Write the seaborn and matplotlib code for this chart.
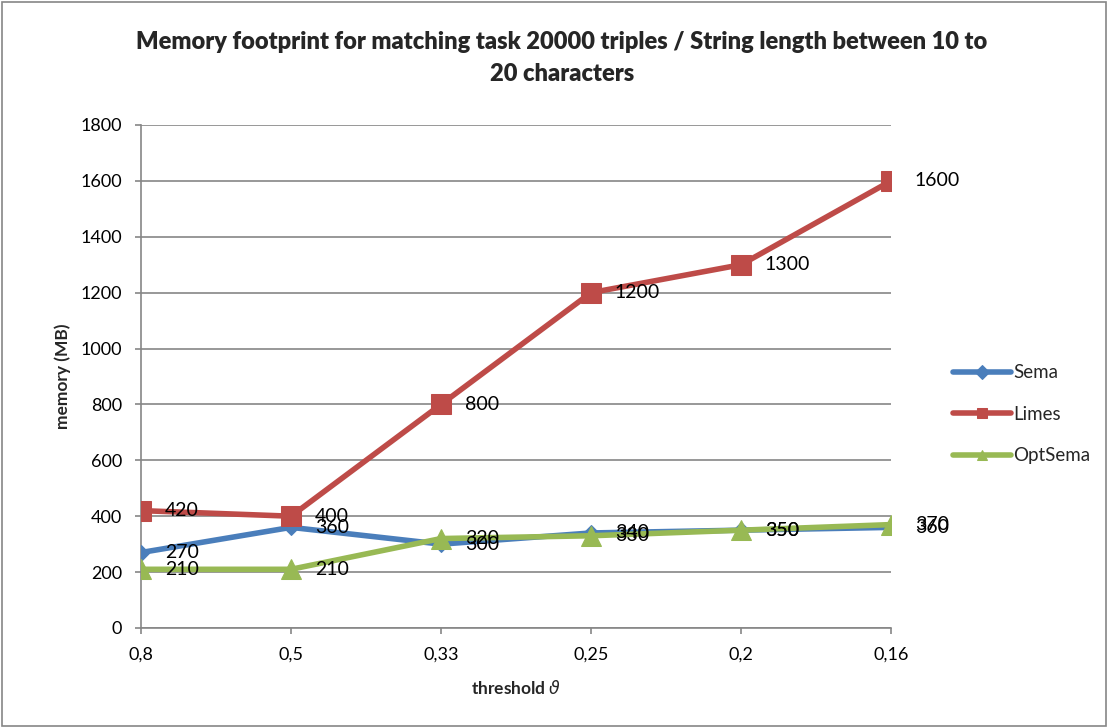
import matplotlib
matplotlib.use("Agg")
import matplotlib.pyplot as plt
import seaborn as sns
import pandas as pd

thresholds = ["0,8", "0,5", "0,33", "0,25", "0,2", "0,16"]
sema = [270, 360, 300, 340, 350, 360]
limes = [420, 400, 800, 1200, 1300, 1600]
optsema = [210, 210, 320, 330, 350, 370]
series_names = ["Sema", "Limes", "OptSema"]
y_ticks = [0, 200, 400, 600, 800, 1000, 1200, 1400, 1600, 1800]

rows = []
for name, vals in zip(series_names, [sema, limes, optsema]):
    for i, (t, v) in enumerate(zip(thresholds, vals)):
        rows.append({"pos": i, "threshold": t, "memory": v, "series": name})
df = pd.DataFrame(rows)

sns.set_theme(style="white")
plt.rcParams["font.family"] = ["Lato", "DejaVu Sans"]

fig = plt.figure(figsize=(11.08, 7.28), dpi=100)
ax = fig.add_axes([0.1273, 0.1374, 0.6769, 0.6909])

palette = {"Sema": "#4a7ebb", "Limes": "#be4b48", "OptSema": "#98b954"}
markers = {"Sema": "D", "Limes": "s", "OptSema": "^"}
sizes = {"Sema": 8, "Limes": 14, "OptSema": 15}

for name in series_names:
    sub = df[df["series"] == name]
    sns.lineplot(data=sub, x="pos", y="memory", ax=ax, color=palette[name],
                 marker=markers[name], markersize=sizes[name],
                 markeredgecolor=palette[name], linewidth=4,
                 label=name, zorder=3)
    for _, r in sub.iterrows():
        ax.annotate(str(r["memory"]), (r["pos"], r["memory"]),
                    xytext=(17, 0), textcoords="offset points",
                    va="center", ha="left", fontsize=14, color="black",
                    zorder=5)

ax.set_xlim(0, 5)
ax.set_ylim(0, 1800)
ax.set_yticks(y_ticks)
ax.set_xticks(range(len(thresholds)))
ax.set_xticklabels(thresholds)
ax.yaxis.grid(True, color="#868686", linewidth=1.2)
ax.xaxis.grid(False)
for side in ["top", "right"]:
    ax.spines[side].set_visible(False)
for side in ["left", "bottom"]:
    ax.spines[side].set_color("#868686")
    ax.spines[side].set_linewidth(1.2)
ax.tick_params(axis="both", which="both", direction="out", length=4.5,
               color="#868686", width=1.2, labelsize=13, labelcolor="black",
               bottom=True, left=True)
ax.tick_params(axis="x", pad=9)
ax.tick_params(axis="y", pad=9)

ax.set_xlabel("threshold $\\vartheta$", fontsize=12.5, fontweight="bold", labelpad=12)
ax.set_ylabel("memory (MB)", fontsize=12.5, fontweight="bold", labelpad=7)
fig.text(0.507, 0.958,
         "Memory footprint for matching task 20000 triples / String length between 10 to\n20 characters",
         ha="center", va="top", fontsize=17, fontweight="heavy", linespacing=1.6)

leg = ax.legend(loc="center left", bbox_to_anchor=(1.06, 0.425), frameon=False,
                fontsize=13.5, handlelength=3.1, labelspacing=1.3, handletextpad=0.1)
for h in leg.legend_handles:
    h.set_markersize(7)
    h.set_linewidth(4)

fig.patches.append(plt.Rectangle((0.002, 0.003), 0.996, 0.994, transform=fig.transFigure,
                                 fill=False, edgecolor="#868686", linewidth=1.2))

fig.savefig("out.png", dpi=100)
